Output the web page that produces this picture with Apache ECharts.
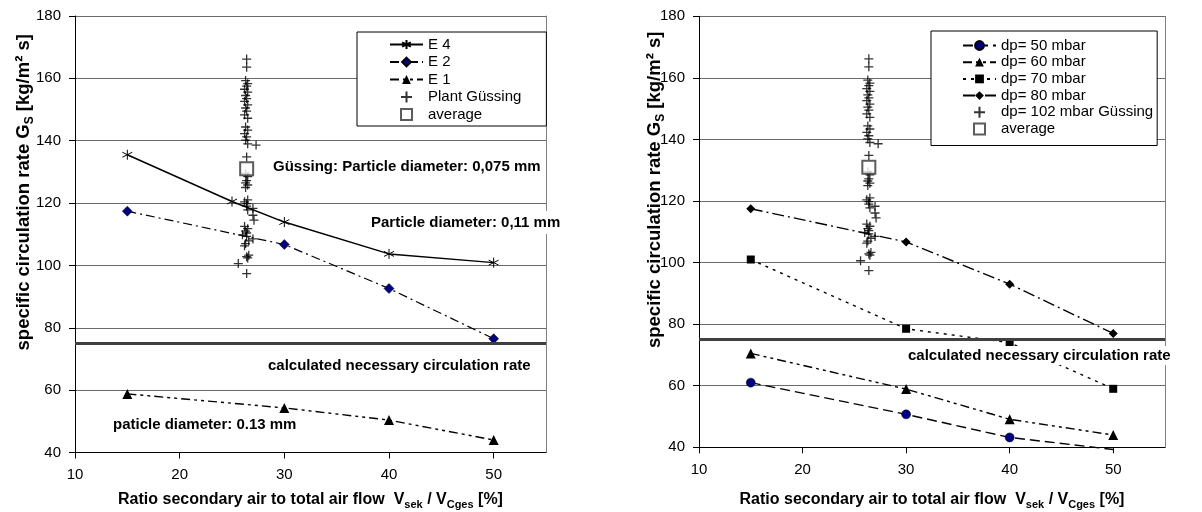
<!DOCTYPE html>
<html>
<head>
<meta charset="utf-8">
<script src="https://cdn.jsdelivr.net/npm/echarts@6/dist/echarts.min.js"></script>
<style>html,body{margin:0;padding:0;background:#fff}#c{width:1202px;height:512px}</style>
</head>
<body>
<div id="c"></div>
<script>
// ---------- data ----------
var xRatio = [15, 30, 40, 50];
var e4X = [15, 25, 30, 40, 50];
var e4Y = [135.5, 120.5, 113.9, 103.7, 100.9];
var e2Y = [117.4, 106.7, 92.6, 76.5];
var e1Y = [58.8, 54.3, 50.4, 44.0];
var dp50Y = [61.0, 50.7, 43.2, 39.3];
var dp60Y = [70.5, 58.9, 49.1, 44.0];
var dp70Y = [101.0, 78.5, 74.0, 59.0];
var dp80Y = [117.5, 106.7, 93.0, 77.0];
var plantX = [26.4, 26.4, 26.3, 26.5, 26.4, 26.2, 26.5, 26.3, 26.4, 26.2, 26.5, 26.3, 26.4, 26.2, 26.5,
              26.3, 26.5, 26.2, 26.4, 26.3, 27.3, 26.5, 26.4, 26.3, 26.5, 26.4, 26.3, 26.5, 26.3, 26.5,
              26.2, 26.4, 27.0, 26.4, 26.5, 27.0, 26.2, 26.5, 26.3, 27.1, 26.4, 26.0, 27.0, 26.4, 26.6,
              26.3, 26.2, 26.6, 26.4, 25.6, 26.5, 26.4];
var plantY = [166.2, 163.6, 159.3, 158.3, 157.5, 156.5, 155.6, 154.5, 153.5, 152.6, 151.5, 150.5, 149.5, 148.3, 147.2,
              144.4, 143.4, 142.3, 141.2, 140.2, 138.6, 139.0, 134.8, 129.5, 128.5, 127.2, 126.5, 125.8, 125.0, 121.0,
              120.4, 119.8, 118.3, 119.0, 117.8, 116.1, 112.5, 111.8, 111.0, 114.5, 110.4, 109.8, 108.5, 109.3, 107.9,
              107.0, 106.3, 103.3, 102.8, 100.6, 102.4, 97.4];
var avgX = [26.4];
var avgY = [131.0];
var yTicks = [40, 60, 80, 100, 120, 140, 160, 180];
var xTicks = [10, 20, 30, 40, 50];
var necessaryRate = 75;
var Y_MIN = 40, Y_MAX = 180;

// points below the axis minimum are drawn as line only (no marker), like the original
function pairs(xs, ys) {
  return ys.map(function (v, i) {
    return v < Y_MIN ? { value: [xs[i], v], symbol: 'none' } : [xs[i], v];
  });
}

var FONT = 'Liberation Sans, Arial, sans-serif';
var ASTER = 'path://M5 0L5 10M0.7 2.5L9.3 7.5M0.7 7.5L9.3 2.5';
var PLUS = 'path://M5 0L5 10M0 5L10 5';
var SQUARE = 'path://M0 0L10 0L10 10L0 10Z';

function xAxisFor(g, gap) {
  return {
    type: 'value', gridIndex: g, min: 10, max: 55, interval: 10,
    name: '{b|Ratio secondary air to total air flow  V}{s|sek}{b| / V}{s|Cges}{b| [%]}',
    nameLocation: 'middle', nameGap: gap, nameMoveOverlap: false,
    nameTextStyle: {
      rich: {
        b: { fontFamily: FONT, fontWeight: 'bold', fontSize: 16, color: '#000', lineHeight: 20, verticalAlign: 'bottom' },
        s: { fontFamily: FONT, fontWeight: 'bold', fontSize: 11, color: '#000', lineHeight: 20, verticalAlign: 'bottom', padding: [0, 0, -3, 0] }
      }
    },
    axisLine: { show: true, onZero: false, lineStyle: { color: '#000', width: 1 } },
    axisTick: { show: true, inside: false, length: 6, customValues: xTicks, lineStyle: { color: '#000' } },
    axisLabel: { customValues: xTicks, color: '#000', fontFamily: FONT, fontSize: 15, margin: 15 },
    splitLine: { show: false }
  };
}
function yAxisFor(g, gap) {
  return {
    type: 'value', gridIndex: g, min: Y_MIN, max: Y_MAX, interval: 20,
    name: '{b|specific circulation rate G}{s|S}{b| [kg/m² s]}',
    nameLocation: 'middle', nameGap: gap, nameMoveOverlap: false,
    nameTextStyle: {
      padding: [0, 0, 0, 84],
      rich: {
        b: { fontFamily: FONT, fontWeight: 'bold', fontSize: 18.5, color: '#000', lineHeight: 22, verticalAlign: 'bottom' },
        s: { fontFamily: FONT, fontWeight: 'bold', fontSize: 12, color: '#000', lineHeight: 22, verticalAlign: 'bottom', padding: [0, 0, -3, 0] }
      }
    },
    axisLine: { show: true, onZero: false, lineStyle: { color: '#000', width: 1 } },
    axisTick: { show: true, inside: false, length: 6, customValues: yTicks, lineStyle: { color: '#000' } },
    axisLabel: { customValues: yTicks, color: '#000', fontFamily: FONT, fontSize: 15, margin: 14 },
    splitLine: { show: true, lineStyle: { color: '#6a6a6a', width: 1 } }
  };
}
function borderAxis(g) {
  return {
    type: 'value', gridIndex: g, min: Y_MIN, max: Y_MAX, interval: 20, position: 'right',
    axisLine: { show: true, onZero: false, lineStyle: { color: '#808080', width: 1 } },
    axisTick: { show: false }, axisLabel: { show: false }, splitLine: { show: false }
  };
}
function necessaryLine() {
  return {
    silent: true, symbol: ['none', 'none'], label: { show: false },
    lineStyle: { color: '#404040', width: 3, type: 'solid' },
    data: [{ yAxis: necessaryRate }]
  };
}

var option = {
  animation: false,
  backgroundColor: '#fff',
  textStyle: { fontFamily: FONT },
  grid: [
    { left: 75, right: 656, top: 16, bottom: 59.5, outerBoundsMode: 'none', containLabel: false },
    { left: 699, right: 37, top: 16.3, bottom: 64.7, outerBoundsMode: 'none', containLabel: false }
  ],
  xAxis: [xAxisFor(0, 35), xAxisFor(1, 40)],
  yAxis: [yAxisFor(0, 42), borderAxis(0), yAxisFor(1, 35), borderAxis(1)],
  legend: [
    {
      left: 357, top: 32, orient: 'vertical',
      backgroundColor: '#fff', borderColor: '#000', borderWidth: 1, borderRadius: 0,
      padding: [5, 25, 4, 32],
      itemWidth: 33, itemHeight: 11, itemGap: 2.5,
      textStyle: { fontFamily: FONT, fontSize: 15, color: '#000' },
      data: ['E 4', 'E 2', 'E 1', 'Plant Güssing', 'average'],
      selectedMode: false
    },
    {
      left: 931, top: 31, orient: 'vertical',
      backgroundColor: '#fff', borderColor: '#000', borderWidth: 1, borderRadius: 0,
      padding: [7, 4, 9, 31],
      itemWidth: 33, itemHeight: 11, itemGap: 1.7,
      textStyle: { fontFamily: FONT, fontSize: 15, color: '#000' },
      data: ['dp= 50 mbar', 'dp= 60 mbar', 'dp= 70 mbar', 'dp= 80 mbar', 'dp= 102 mbar Güssing', 'average'],
      selectedMode: false
    }
  ],
  series: [
    // ---- left chart ----
    {
      name: 'E 4', type: 'line', xAxisIndex: 0, yAxisIndex: 0, data: pairs(e4X, e4Y),
      symbol: ASTER, symbolSize: 10, showSymbol: true,
      itemStyle: { color: '#000', borderColor: '#000', borderWidth: 1 },
      lineStyle: { color: '#000', width: 1.5, type: 'solid' },
      markLine: necessaryLine(), z: 4
    },
    {
      name: 'E 2', type: 'line', xAxisIndex: 0, yAxisIndex: 0, data: pairs(xRatio, e2Y),
      symbol: 'diamond', symbolSize: 10,
      itemStyle: { color: '#000080', borderColor: '#000', borderWidth: 0.5 },
      lineStyle: { color: '#000', width: 1.2, type: [9, 4, 2, 4] }, z: 4
    },
    {
      name: 'E 1', type: 'line', xAxisIndex: 0, yAxisIndex: 0, data: pairs(xRatio, e1Y),
      symbol: 'triangle', symbolSize: 10,
      itemStyle: { color: '#000' },
      lineStyle: { color: '#000', width: 1.4, type: [9, 4, 3, 4, 3, 4] }, z: 4
    },
    {
      name: 'Plant Güssing', type: 'scatter', xAxisIndex: 0, yAxisIndex: 0, data: pairs(plantX, plantY),
      symbol: PLUS, symbolSize: 9,
      itemStyle: { color: '#000', borderColor: '#000', borderWidth: 1.3 }, z: 3
    },
    {
      name: 'average', type: 'scatter', xAxisIndex: 0, yAxisIndex: 0, data: pairs(avgX, avgY),
      symbol: SQUARE, symbolSize: 13,
      itemStyle: { color: '#fff', borderColor: '#333', borderWidth: 2 }, z: 5
    },
    // ---- right chart ----
    {
      name: 'dp= 50 mbar', type: 'line', xAxisIndex: 1, yAxisIndex: 2, data: pairs(xRatio, dp50Y),
      symbol: 'circle', symbolSize: 9, clip: false,
      itemStyle: { color: '#000080', borderColor: '#000', borderWidth: 0.5 },
      lineStyle: { color: '#000', width: 1.4, type: [10, 5] },
      markLine: necessaryLine(), z: 4
    },
    {
      name: 'dp= 60 mbar', type: 'line', xAxisIndex: 1, yAxisIndex: 2, data: pairs(xRatio, dp60Y),
      symbol: 'triangle', symbolSize: 10,
      itemStyle: { color: '#000' },
      lineStyle: { color: '#000', width: 1.4, type: [9, 4, 3, 4, 3, 4] }, z: 4
    },
    {
      name: 'dp= 70 mbar', type: 'line', xAxisIndex: 1, yAxisIndex: 2, data: pairs(xRatio, dp70Y),
      symbol: 'rect', symbolSize: 8,
      itemStyle: { color: '#000' },
      lineStyle: { color: '#000', width: 1.4, type: [3, 5] }, z: 4
    },
    {
      name: 'dp= 80 mbar', type: 'line', xAxisIndex: 1, yAxisIndex: 2, data: pairs(xRatio, dp80Y),
      symbol: 'diamond', symbolSize: 9,
      itemStyle: { color: '#000' },
      lineStyle: { color: '#000', width: 1.4, type: [12, 4, 2, 4] }, z: 4
    },
    {
      name: 'dp= 102 mbar Güssing', type: 'scatter', xAxisIndex: 1, yAxisIndex: 2, data: pairs(plantX, plantY),
      symbol: PLUS, symbolSize: 9,
      itemStyle: { color: '#000', borderColor: '#000', borderWidth: 1.3 }, z: 3
    },
    {
      name: 'average', type: 'scatter', xAxisIndex: 1, yAxisIndex: 2, data: pairs(avgX, avgY),
      symbol: SQUARE, symbolSize: 13,
      itemStyle: { color: '#fff', borderColor: '#333', borderWidth: 2 }, z: 5
    }
  ],
  graphic: [
    { type: 'text', left: 273, top: 159, z: 10, style: { text: 'Güssing: Particle diameter: 0,075 mm', font: 'bold 15px ' + FONT, fill: '#000' } },
    { type: 'text', left: 368, top: 211, z: 10, style: { text: 'Particle diameter: 0,11 mm', font: 'bold 15px ' + FONT, fill: '#000', backgroundColor: '#fff', padding: [4, 3, 4, 3] } },
    { type: 'text', left: 268, top: 358, z: 10, style: { text: 'calculated necessary circulation rate', font: 'bold 15px ' + FONT, fill: '#000' } },
    { type: 'text', left: 113, top: 417, z: 10, style: { text: 'paticle diameter: 0.13 mm', font: 'bold 15px ' + FONT, fill: '#000' } },
    { type: 'text', left: 906, top: 346, z: 10, style: { text: 'calculated necessary circulation rate', font: 'bold 15px ' + FONT, fill: '#000', backgroundColor: '#fff', padding: [2, 2, 2, 2] } }
  ]
};

var chart = echarts.init(document.getElementById('c'), null, { renderer: 'canvas' });
chart.setOption(option);
</script>
</body>
</html>
